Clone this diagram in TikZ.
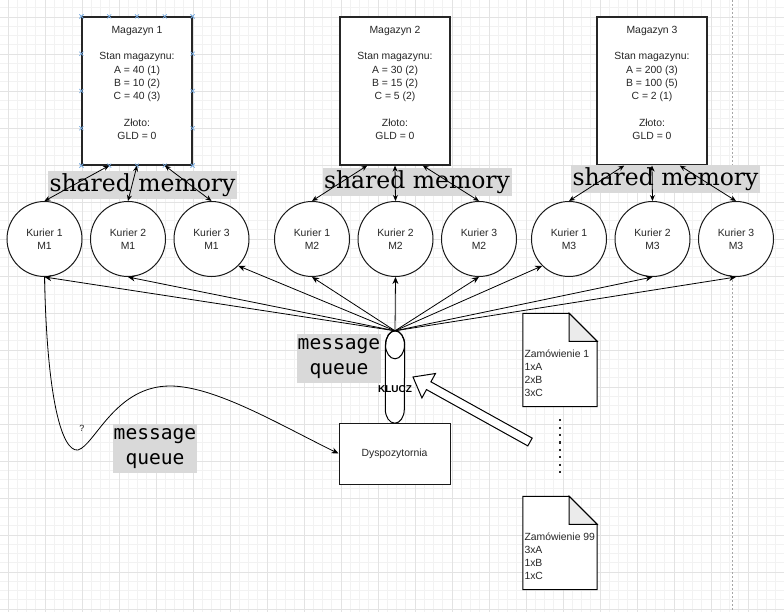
\documentclass[tikz,border=0pt]{standalone}
\usepackage{fontspec}
\setmainfont{Liberation Sans}
\newfontfamily\serifshared{DejaVu Serif}
\newfontfamily\monoqueue{DejaVu Sans Mono}
\usetikzlibrary{arrows.meta, positioning, calc}
\tikzset{
  x=1pt, y=-1pt,
  every node/.style={align=center, text=black!85}
}

\begin{document}
\begin{tikzpicture}[font=\fontsize{10.4}{13.3}\selectfont]
\tikzstyle{minorgrid}=[draw=black!5, line width=0.6pt]
\tikzstyle{majorgrid}=[draw=black!11, line width=0.6pt]
\tikzstyle{magazyn}=[rectangle, draw=black!85, fill=white, line width=1.2pt,
  minimum width=110pt, minimum height=148pt, inner sep=0pt]
\tikzstyle{kurier}=[circle, draw=black!90, fill=white, line width=1pt,
  minimum size=75pt, inner sep=0pt]
\tikzstyle{sharedmem}=[fill=black!15, minimum width=189pt, minimum height=28pt,
  inner sep=0pt, text=black, font=\serifshared\fontsize{23.5}{26}\selectfont]
\tikzstyle{mqlabel}=[fill=black!15, minimum width=84pt, minimum height=49pt,
  inner sep=0pt, text=black, font=\monoqueue\fontsize{19.6}{24.5}\selectfont]
\tikzstyle{dokument}=[minimum width=74pt, minimum height=93pt, inner sep=0pt]
\tikzstyle{handle}=[draw=cyan!60!blue!55, line width=0.7pt]

\tikzstyle{2mem}=[{Stealth[length=6pt,width=5pt]}-{Stealth[length=6pt,width=5pt]},
  draw=black, line width=0.8pt]
\tikzstyle{2kurier}=[-{Stealth[length=7pt,width=6pt]}, draw=black, line width=0.8pt]

\useasboundingbox (0,0) rectangle (784,612);
\fill[white] (0,0) rectangle (784,612);

% grid
\foreach \i in {-1,...,84} \draw[minorgrid] ({8+9.25*\i},0) -- ({8+9.25*\i},612);
\foreach \i in {-2,...,64} \draw[minorgrid] (0,{17+9.25*\i}) -- (784,{17+9.25*\i});
\foreach \i in {0,...,21} \draw[majorgrid] ({8+37*\i},0) -- ({8+37*\i},612);
\foreach \i in {-1,...,16} \draw[majorgrid] (0,{17+37*\i}) -- (784,{17+37*\i});
\draw[black!35, dash pattern=on 2pt off 2pt, line width=0.7pt] (732,0) -- (732,612);

% magazyny
\node[magazyn](mag1) at (137,91) {};
\node[magazyn](mag2) at (395,91) {};
\node[magazyn](mag3) at (652,91) {};
\node[anchor=north, inner sep=0pt](mag1txt) at ($(mag1.north)+(0,9.5)$)
  {Magazyn 1\\[13.3pt]Stan magazynu:\\A = 40 (1)\\B = 10 (2)\\C = 40 (3)\\[13.3pt]Złoto:\\GLD = 0};
\node[anchor=north, inner sep=0pt](mag2txt) at ($(mag2.north)+(0,9.5)$)
  {Magazyn 2\\[13.3pt]Stan magazynu:\\A = 30 (2)\\B = 15 (2)\\C = 5 (2)\\[13.3pt]Złoto:\\GLD = 0};
\node[anchor=north, inner sep=0pt](mag3txt) at ($(mag3.north)+(0,9.5)$)
  {Magazyn 3\\[13.3pt]Stan magazynu:\\A = 200 (3)\\B = 100 (5)\\C = 2 (1)\\[13.3pt]Złoto:\\GLD = 0};

% selection handles of magazyn 1
\foreach \t in {0,0.25,0.5,0.75,1} {
  \draw[handle] ($(mag1.north west)!\t!(mag1.north east)$) +(-2,-2) -- +(2,2) +(-2,2) -- +(2,-2);
  \draw[handle] ($(mag1.south west)!\t!(mag1.south east)$) +(-2,-2) -- +(2,2) +(-2,2) -- +(2,-2);
  \draw[handle] ($(mag1.north west)!\t!(mag1.south west)$) +(-2,-2) -- +(2,2) +(-2,2) -- +(2,-2);
  \draw[handle] ($(mag1.north east)!\t!(mag1.south east)$) +(-2,-2) -- +(2,2) +(-2,2) -- +(2,-2);
}

% kurierzy
\node[kurier](k11) at (44.5,239) {Kurier 1\\M1};
\node[kurier, right=7.5pt of k11](k12) {Kurier 2\\M1};
\node[kurier, right=7.5pt of k12](k13) {Kurier 3\\M1};
\node[kurier](k21) at (312,239) {Kurier 1\\M2};
\node[kurier, right=7.5pt of k21](k22) {Kurier 2\\M2};
\node[kurier, right=7.5pt of k22](k23) {Kurier 3\\M2};
\node[kurier](k31) at (569,239) {Kurier 1\\M3};
\node[kurier, right=7.5pt of k31](k32) {Kurier 2\\M3};
\node[kurier, right=7.5pt of k32](k33) {Kurier 3\\M3};

% shared memory
\node[sharedmem](shm1) at (142.5,185) {shared memory};
\node[sharedmem](shm2) at (417,182) {shared memory};
\node[sharedmem](shm3) at (665.5,179) {shared memory};

\foreach \m in {1,2,3} {
  \draw[2mem] ($(mag\m.south west)!0.25!(mag\m.south east)$) -- (k\m1.north);
  \draw[2mem] (mag\m.south) -- (k\m2.north);
  \draw[2mem] ($(mag\m.south west)!0.75!(mag\m.south east)$) -- (k\m3.north);
}

% dyspozytornia + message queue
\node[rectangle, draw=black!90, fill=white, line width=1pt, minimum width=111pt,
  minimum height=61pt](dysp) at (394.5,453.5) {Dyspozytornia};
\node[minimum width=19pt, minimum height=92pt, inner sep=0pt](mq) at (395,377) {};
\draw[line width=1pt, fill=white] ($(mq.north west)+(0,14)$) -- ($(mq.south west)+(0,-14)$)
  arc[start angle=180, end angle=0, x radius=9.5, y radius=14]
  -- ($(mq.north east)+(0,14)$)
  arc[start angle=0, end angle=-180, x radius=9.5, y radius=14] -- cycle;
\draw[line width=1pt] ($(mq.north)+(0,14)$) ellipse[x radius=9.5, y radius=14];
\node[text=black, font=\bfseries\fontsize{10}{12}\selectfont](klucz) at (395,389) {KLUCZ};
\coordinate (mqtop) at (mq.north);

\foreach \k in {k11,k12,k21,k22,k23,k32,k33}
  \draw[2kurier] (mqtop) -- (\k.south);
\draw[2kurier] (mqtop) -- (k13.south east);
\draw[2kurier] (mqtop) -- (k31.south west);

\node[mqlabel](mqlab1) at (339,358.5) {message\\queue};
\node[mqlabel](mqlab2) at (155,448.5) {message\\queue};

% kurier -> dyspozytornia
\draw[2kurier] (k11.south) .. controls (47,400) and (62,452) .. (78,450)
  .. controls (95,445) and (115,386) .. (170,386)
  .. controls (215,386) and (280,425) .. (dysp.west);
\node[font=\fontsize{9}{11}\selectfont](pyt) at (82,428) {?};

% zamowienia
\foreach \n/\y/\txt in {1/360/{Zamówienie 1\\1xA\\2xB\\3xC},
    99/543/{Zamówienie 99\\3xA\\1xB\\1xC}} {
  \node[dokument](zam\n) at (560,\y) {};
  \draw[line width=1pt, fill=white] (zam\n.north west) -- ($(zam\n.north east)+(-28,0)$)
    -- ($(zam\n.north east)+(0,28)$) -- (zam\n.south east) -- (zam\n.south west) -- cycle;
  \draw[line width=1pt, fill=black!8] ($(zam\n.north east)+(-28,0)$)
    -- ($(zam\n.north east)+(-28,28)$) -- ($(zam\n.north east)+(0,28)$) -- cycle;
  \node[anchor=north west, align=left, inner sep=0pt, font=\fontsize{10.4}{13}\selectfont]
    (zamtxt\n) at ($(zam\n.north west)+(1.5,36)$) {\txt};
}
\draw[black!85, line width=2.2pt, dash pattern=on 2.2pt off 5.2pt]
  ($(zam1.south)+(0,12.5)$) -- ($(zam99.north)+(0,-18.5)$);

% big hollow arrow
\draw[line width=1pt, fill=white] (532.2,438.1) -- (430.9,381.8) -- (435.5,373.5)
  -- (413,377) -- (421.9,397.9) -- (426.5,389.6) -- (527.8,445.9) -- cycle;

\end{tikzpicture}
\end{document}
